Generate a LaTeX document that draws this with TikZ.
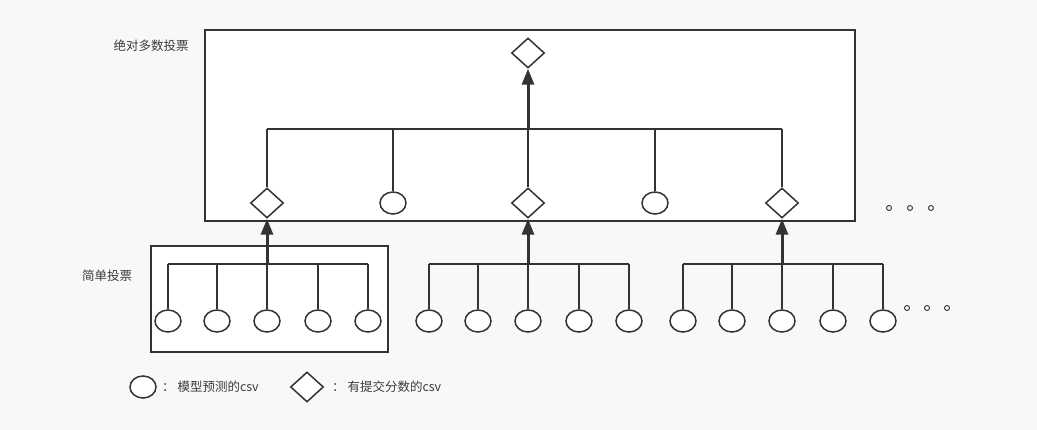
\documentclass[tikz,border=0pt]{standalone}
\usepackage{fontspec}
\setmainfont{Noto Sans CJK SC}
\usetikzlibrary{arrows.meta,shapes.geometric}

\definecolor{linegray}{HTML}{333333}
\definecolor{textgray}{HTML}{3C3C3C}
\definecolor{bggray}{HTML}{F8F8F8}

\tikzset{
  csvcircle/.style={ellipse, draw=linegray, line width=1.5pt, fill=white,
    minimum width=26pt, minimum height=22pt, inner sep=0pt},
  csvdiamond/.style={diamond, draw=linegray, line width=1.5pt, fill=white,
    minimum width=33pt, minimum height=30pt, inner sep=0pt},
  groupbox/.style={draw=linegray, line width=2pt, fill=white},
  link/.style={draw=linegray, line width=1.5pt},
  uparrow/.style={draw=linegray, line width=3pt, -{Triangle[length=16pt,width=12pt]}},
  smalldot/.style={circle, draw=linegray, line width=0.9pt, minimum size=5pt, inner sep=0pt},
  txt/.style={text=textgray, font=\fontsize{12.5}{14}\selectfont, inner sep=0pt},
}

\begin{document}
\begin{tikzpicture}[x=1pt, y=-1pt]

% background
\fill[bggray] (0,0) rectangle (1037,430);
\useasboundingbox (0,0) rectangle (1037,430);

% boxes
\draw[groupbox] (205,30) rectangle (855,221);
\draw[groupbox] (151,246) rectangle (388,352);

% box labels
\node[txt] (absolute) at (151,46) {绝对多数投票};
\node[txt] (simple) at (107,276) {简单投票};

% top result
\node[csvdiamond] (top) at (528,53) {};

% middle row
\node[csvdiamond] (m1) at (267,203) {};
\node[csvcircle]  (m2) at (393,203) {};
\node[csvdiamond] (m3) at (528,203) {};
\node[csvcircle]  (m4) at (655,203) {};
\node[csvdiamond] (m5) at (782,203) {};

\coordinate (topbus) at (528,129);
\foreach \m in {m1,m2,m3,m4,m5}
  \draw[link] (\m.north) -- (\m.north |- topbus);
\draw[link] (m1.north |- topbus) -- (m5.north |- topbus);
\draw[link, line width=2.6pt] (m2.north |- topbus) -- (m4.north |- topbus);
\draw[uparrow] (topbus) -- (top.south);

% bottom groups
\foreach \g/\cx in {1/267,3/528,5/782} {
  \foreach \i/\dx in {1/-99,2/-50,3/0,4/51,5/101}
    \node[csvcircle] (g\g c\i) at (\cx+\dx,321) {};
  \coordinate (bus\g) at (\cx,264);
  \foreach \i in {1,...,5}
    \draw[link] (g\g c\i.north) -- (g\g c\i.north |- bus\g);
  \draw[link] (g\g c1.north |- bus\g) -- (g\g c5.north |- bus\g);
  \draw[uparrow] (bus\g) -- (m\g.south);
}

% more groups
\foreach \x [count=\k] in {889,910,931}
  \node[smalldot] (updot\k) at (\x,208) {};
\foreach \x [count=\k] in {907,927,947}
  \node[smalldot] (lowdot\k) at (\x,308) {};

% legend
\node[csvcircle] (legcircle) at (143,387) {};
\node[txt, anchor=west] (legcircletext) at (162,387) {：~模型预测的csv};
\node[csvdiamond] (legdiamond) at (307,387) {};
\node[txt, anchor=west] (legdiamondtext) at (332,387) {：~有提交分数的csv};

\end{tikzpicture}
\end{document}
